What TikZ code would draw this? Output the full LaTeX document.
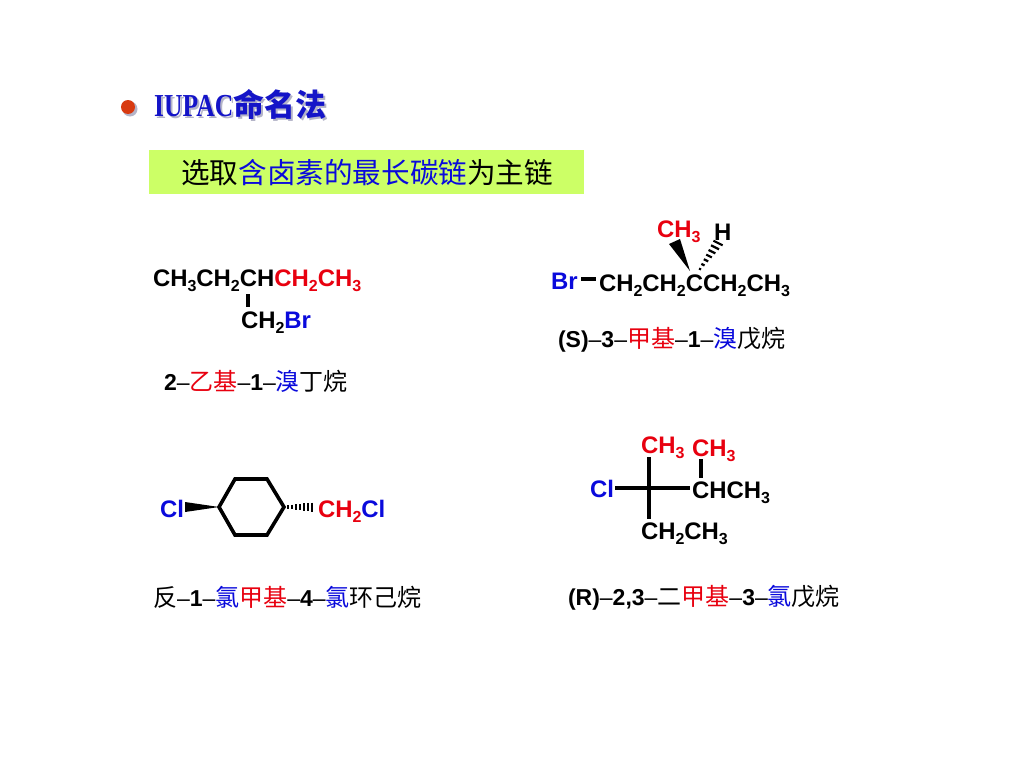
\documentclass[tikz,border=0pt]{standalone}
\usepackage{fontspec}
\usepackage{graphicx}
\usetikzlibrary{calc}
\setmainfont{Liberation Sans}
\newfontfamily\cjk{Noto Sans CJK SC}
\newfontfamily\serifb{Liberation Serif}[BoldFont={Liberation Serif Bold}]
\definecolor{chemred}{HTML}{E8000F}
\definecolor{chemblue}{HTML}{0A0ADC}
\definecolor{titleblue}{HTML}{1414C8}
\definecolor{titleshadow}{HTML}{B4B4C8}
\definecolor{boxgreen}{HTML}{CCFF66}
\definecolor{bulletred}{HTML}{D83A10}
\newcommand{\sbs}[1]{\raisebox{-0.25em}{\fontsize{16}{16}\selectfont #1}}
\newcommand{\rd}[1]{\textcolor{chemred}{#1}}
\newcommand{\bl}[1]{\textcolor{chemblue}{#1}}
\newcommand{\dsh}{{\mdseries –}}
\newcommand{\hn}{\cjk\mdseries\fontsize{24}{25}\selectfont}
\newcommand{\ttl}[1]{{\serifb\bfseries\fontsize{32}{34}\selectfont\scalebox{0.8}[1]{IUPAC}}{\cjk\bfseries\fontsize{31}{34}\selectfont 命名法}}
\tikzset{
  chem/.style={anchor=base west,inner sep=0pt,outer sep=0pt,font=\bfseries\fontsize{23.9}{25}\selectfont},
  iname/.style={anchor=base west,inner sep=0pt,outer sep=0pt,font=\bfseries\fontsize{23}{25}\selectfont},
  bond/.style={line width=3.6pt,black},
  ring/.style={line width=3.6pt,black,line join=miter},
  wedge/.style={fill=black,draw=none},
  hash/.style={black,line width=2.2pt}
}
\begin{document}
\begin{tikzpicture}[x=1pt,y=-1pt]
\useasboundingbox (0,0) rectangle (1024,768);
\fill[white] (0,0) rectangle (1024,768);
% title
\fill[titleshadow] (130,109) circle (7.5);
\fill[bulletred] (128,107) circle (7);
\node[anchor=base west,inner sep=0pt,text=titleshadow] (titleS) at (156,118) {\ttl{}};
\node[anchor=base west,inner sep=0pt,text=titleblue] (title) at (154,116) {\ttl{}};
% green box
\node[fill=boxgreen,minimum width=435pt,minimum height=44pt,inner sep=0pt,anchor=north west] (gbox) at (149,150) {};
\node[anchor=base west,inner sep=0pt,font=\cjk\fontsize{28.6}{30}\selectfont] (gtxt) at (181,183) {选取\bl{含卤素的最长碳链}为主链};
% formula 1
\node[chem] (f1) at (153,286) {CH\sbs{3}CH\sbs{2}CH\rd{CH\sbs{2}CH\sbs{3}}};
\node[chem] (f1b) at (241,328) {CH\sbs{2}\bl{Br}};
\coordinate (f1t) at (248,294); \coordinate (f1u) at (248,307);
\draw[bond] (f1t) -- (f1u);
\node[iname] (n1) at (164,390) {2\dsh{\hn\rd{乙基}}\dsh 1\dsh{\hn\bl{溴}丁烷}};
% formula 2
\node[chem] (f2br) at (551,289) {\bl{Br}};
\node[chem] (f2) at (599,291) {CH\sbs{2}CH\sbs{2}CCH\sbs{2}CH\sbs{3}};
\node[chem] (f2m) at (657,237) {\rd{CH\sbs{3}}};
\node[chem] (f2h) at (714,240) {H};
\coordinate (b2a) at (581,279); \coordinate (b2b) at (596,279);
\draw[bond] (b2a) -- (b2b);
\coordinate (wa) at (690,271); \coordinate (wb) at (669,244); \coordinate (wc) at (680,239);
\fill[wedge] (wa) -- (wb) -- (wc) -- cycle;
\coordinate (ha) at (700,269); \coordinate (hb) at (718,243);
\foreach \t/\w in {0/2,0.167/3.2,0.333/4.4,0.5/5.6,0.667/6.8,0.833/8,1/9.2}{
  \draw[hash] ($(ha)!\t!(hb)+(-\w/2,-\w/4)$) -- ($(ha)!\t!(hb)+(\w/2,\w/4)$);
}
\node[iname] (n2) at (558,347) {(S)\dsh 3\dsh{\hn\rd{甲基}}\dsh 1\dsh{\hn\bl{溴}戊烷}};
% formula 3
\coordinate (r1) at (219,507); \coordinate (r2) at (235,479); \coordinate (r3) at (267,479);
\coordinate (r4) at (284,507); \coordinate (r5) at (267,535); \coordinate (r6) at (235,535);
\draw[ring] (r1) -- (r2) -- (r3) -- (r4) -- (r5) -- (r6) -- cycle;
\coordinate (w3b) at (185,502); \coordinate (w3c) at (185,512);
\fill[wedge] (r1) -- (w3b) -- (w3c) -- cycle;
\foreach \x/\h in {288/4,292/4.9,296/5.7,300/6.5,304/7.3,308/8.1,312/9}{
  \draw[line width=2.4pt] (\x,507-\h/2) -- (\x,507+\h/2);
}
\node[chem] (c3a) at (160,517) {\bl{Cl}};
\node[chem] (c3b) at (318,517) {\rd{CH\sbs{2}}\bl{Cl}};
\node[iname] (n3) at (153,606) {{\hn 反}\dsh 1\dsh{\hn\bl{氯}\rd{甲基}}\dsh 4\dsh{\hn\bl{氯}环己烷}};
% formula 4
\node[chem] (f4a) at (641,453) {\rd{CH\sbs{3}}};
\node[chem] (f4b) at (692,456) {\rd{CH\sbs{3}}};
\node[chem] (f4c) at (590,497) {\bl{Cl}};
\node[chem] (f4d) at (692,498) {CHCH\sbs{3}};
\node[chem] (f4e) at (641,539) {CH\sbs{2}CH\sbs{3}};
\coordinate (v1) at (649,457); \coordinate (v2) at (649,519);
\coordinate (h1) at (615,488); \coordinate (h2) at (690,488);
\coordinate (u1) at (701,459); \coordinate (u2) at (701,478);
\draw[bond] (v1) -- (v2);
\draw[bond] (h1) -- (h2);
\draw[bond] (u1) -- (u2);
\node[iname] (n4) at (568,605) {(R)\dsh 2,3\dsh{\hn 二\rd{甲基}}\dsh 3\dsh{\hn\bl{氯}戊烷}};
\end{tikzpicture}
\end{document}
